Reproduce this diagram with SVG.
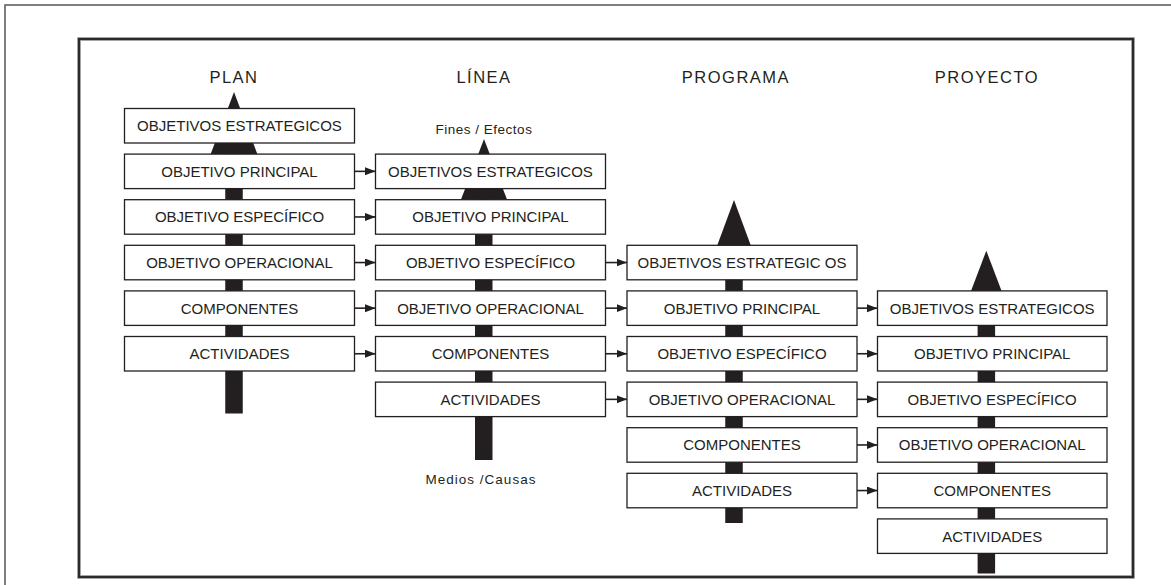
<svg xmlns="http://www.w3.org/2000/svg" width="1171" height="585" viewBox="0 0 1171 585">
<style>
.box{fill:#fff;stroke:#231f20;stroke-width:1.3}
.t{font-family:"Liberation Sans",Arial,sans-serif;font-size:15px;fill:#231f20;text-anchor:middle}
.title{font-family:"Liberation Sans",Arial,sans-serif;font-size:16.5px;letter-spacing:1.5px;fill:#231f20;text-anchor:middle}
.lbl{font-family:"Liberation Sans",Arial,sans-serif;font-size:13.5px;fill:#231f20;text-anchor:middle}
.bar{fill:#231f20}
.conn{stroke:#231f20;stroke-width:1.6;fill:none;marker-end:url(#ah)}
</style>
<defs>
<marker id="ah" markerUnits="userSpaceOnUse" markerWidth="11" markerHeight="9" refX="10.5" refY="4" orient="auto">
<path d="M0,0 L10.5,4 L0,8 z" fill="#231f20"/>
</marker>
</defs>
<rect width="1171" height="585" fill="#fff"/>
<rect x="5" y="5" width="1175" height="600" fill="none" stroke="#555" stroke-width="1.5"/>
<rect x="79" y="39" width="1054" height="538" fill="none" stroke="#888" stroke-width="3.5"/>
<rect x="79" y="39" width="1054" height="538" fill="none" stroke="#2a2a2a" stroke-width="2"/>

<g id="titles">
<text class="title" x="234" y="82.5">PLAN</text>
<text class="title" x="484" y="82.5">LÍNEA</text>
<text class="title" x="736" y="82.5">PROGRAMA</text>
<text class="title" x="987" y="82.5">PROYECTO</text>
</g>

<g id="axis-labels">
<text class="lbl" x="484" y="133.5" letter-spacing="0.5">Fines / Efectos</text>
<text class="lbl" x="481" y="484" letter-spacing="1">Medios /Causas</text>
</g>

<g id="shafts">
<polygon class="bar" points="234,92 257.5,154.5 210.5,154.5"/>
<rect class="bar" x="225.25" y="154" width="17.5" height="259.5"/>
<polygon class="bar" points="484,139 507,199.5 461,199.5"/>
<rect class="bar" x="475" y="199" width="17.5" height="261"/>
<polygon class="bar" points="734,200 751,246 717,246"/>
<rect class="bar" x="725.25" y="245" width="17.5" height="278"/>
<polygon class="bar" points="986.3,250.7 1001.8,291.5 970.8,291.5"/>
<rect class="bar" x="977.6" y="290" width="17.5" height="283.5"/>
</g>

<g id="connectors">
<line class="conn" x1="354.5" y1="171.35" x2="375.5" y2="171.35"/>
<line class="conn" x1="354.5" y1="216.95" x2="375.5" y2="216.95"/>
<line class="conn" x1="354.5" y1="262.55" x2="375.5" y2="262.55"/>
<line class="conn" x1="354.5" y1="308.15" x2="375.5" y2="308.15"/>
<line class="conn" x1="354.5" y1="353.75" x2="375.5" y2="353.75"/>
<line class="conn" x1="605.5" y1="262.55" x2="627" y2="262.55"/>
<line class="conn" x1="605.5" y1="308.15" x2="627" y2="308.15"/>
<line class="conn" x1="605.5" y1="353.75" x2="627" y2="353.75"/>
<line class="conn" x1="605.5" y1="399.35" x2="627" y2="399.35"/>
<line class="conn" x1="857" y1="308.15" x2="877.5" y2="308.15"/>
<line class="conn" x1="857" y1="353.75" x2="877.5" y2="353.75"/>
<line class="conn" x1="857" y1="399.35" x2="877.5" y2="399.35"/>
<line class="conn" x1="857" y1="444.95" x2="877.5" y2="444.95"/>
<line class="conn" x1="857" y1="490.55" x2="877.5" y2="490.55"/>
</g>

<g id="plan-objetivos-estrategicos"><rect class="box" x="124.5" y="108.5" width="230" height="34.5"/><text class="t" x="239.5" y="131.2">OBJETIVOS ESTRATEGICOS</text></g>
<g id="plan-objetivo-principal"><rect class="box" x="124.5" y="154.1" width="230" height="34.5"/><text class="t" x="239.5" y="176.8">OBJETIVO PRINCIPAL</text></g>
<g id="plan-objetivo-especifico"><rect class="box" x="124.5" y="199.7" width="230" height="34.5"/><text class="t" x="239.5" y="222.4">OBJETIVO ESPECÍFICO</text></g>
<g id="plan-objetivo-operacional"><rect class="box" x="124.5" y="245.3" width="230" height="34.5"/><text class="t" x="239.5" y="268">OBJETIVO OPERACIONAL</text></g>
<g id="plan-componentes"><rect class="box" x="124.5" y="290.9" width="230" height="34.5"/><text class="t" x="239.5" y="313.6">COMPONENTES</text></g>
<g id="plan-actividades"><rect class="box" x="124.5" y="336.5" width="230" height="34.5"/><text class="t" x="239.5" y="359.2">ACTIVIDADES</text></g>

<g id="linea-objetivos-estrategicos"><rect class="box" x="375.5" y="154.1" width="230" height="34.5"/><text class="t" x="490.5" y="176.8">OBJETIVOS ESTRATEGICOS</text></g>
<g id="linea-objetivo-principal"><rect class="box" x="375.5" y="199.7" width="230" height="34.5"/><text class="t" x="490.5" y="222.4">OBJETIVO PRINCIPAL</text></g>
<g id="linea-objetivo-especifico"><rect class="box" x="375.5" y="245.3" width="230" height="34.5"/><text class="t" x="490.5" y="268">OBJETIVO ESPECÍFICO</text></g>
<g id="linea-objetivo-operacional"><rect class="box" x="375.5" y="290.9" width="230" height="34.5"/><text class="t" x="490.5" y="313.6">OBJETIVO OPERACIONAL</text></g>
<g id="linea-componentes"><rect class="box" x="375.5" y="336.5" width="230" height="34.5"/><text class="t" x="490.5" y="359.2">COMPONENTES</text></g>
<g id="linea-actividades"><rect class="box" x="375.5" y="382.1" width="230" height="34.5"/><text class="t" x="490.5" y="404.8">ACTIVIDADES</text></g>

<g id="programa-objetivos-estrategicos"><rect class="box" x="627" y="245.3" width="230" height="34.5"/><text class="t" x="742" y="268">OBJETIVOS ESTRATEGIC OS</text></g>
<g id="programa-objetivo-principal"><rect class="box" x="627" y="290.9" width="230" height="34.5"/><text class="t" x="742" y="313.6">OBJETIVO PRINCIPAL</text></g>
<g id="programa-objetivo-especifico"><rect class="box" x="627" y="336.5" width="230" height="34.5"/><text class="t" x="742" y="359.2">OBJETIVO ESPECÍFICO</text></g>
<g id="programa-objetivo-operacional"><rect class="box" x="627" y="382.1" width="230" height="34.5"/><text class="t" x="742" y="404.8">OBJETIVO OPERACIONAL</text></g>
<g id="programa-componentes"><rect class="box" x="627" y="427.7" width="230" height="34.5"/><text class="t" x="742" y="450.4">COMPONENTES</text></g>
<g id="programa-actividades"><rect class="box" x="627" y="473.3" width="230" height="34.5"/><text class="t" x="742" y="496">ACTIVIDADES</text></g>

<g id="proyecto-objetivos-estrategicos"><rect class="box" x="877.5" y="290.9" width="229.5" height="34.5"/><text class="t" x="992.2" y="313.6">OBJETIVOS ESTRATEGICOS</text></g>
<g id="proyecto-objetivo-principal"><rect class="box" x="877.5" y="336.5" width="229.5" height="34.5"/><text class="t" x="992.2" y="359.2">OBJETIVO PRINCIPAL</text></g>
<g id="proyecto-objetivo-especifico"><rect class="box" x="877.5" y="382.1" width="229.5" height="34.5"/><text class="t" x="992.2" y="404.8">OBJETIVO ESPECÍFICO</text></g>
<g id="proyecto-objetivo-operacional"><rect class="box" x="877.5" y="427.7" width="229.5" height="34.5"/><text class="t" x="992.2" y="450.4">OBJETIVO OPERACIONAL</text></g>
<g id="proyecto-componentes"><rect class="box" x="877.5" y="473.3" width="229.5" height="34.5"/><text class="t" x="992.2" y="496">COMPONENTES</text></g>
<g id="proyecto-actividades"><rect class="box" x="877.5" y="518.9" width="229.5" height="34.5"/><text class="t" x="992.2" y="541.6">ACTIVIDADES</text></g>
</svg>
